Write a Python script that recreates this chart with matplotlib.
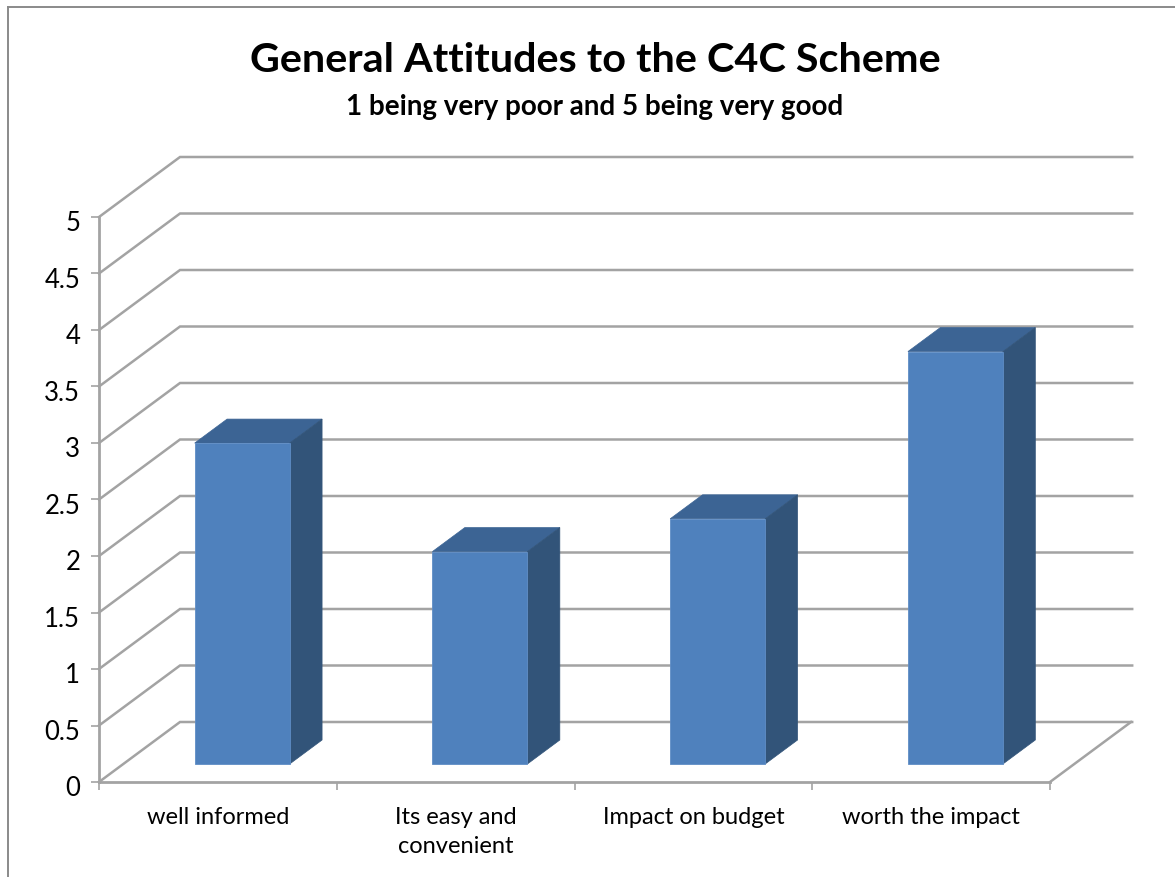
import matplotlib
matplotlib.use('Agg')
import matplotlib.pyplot as plt
from matplotlib.patches import Polygon
from matplotlib.transforms import ScaledTranslation

plt.rcParams['font.family'] = ['Lato', 'DejaVu Sans']

categories = ['well informed', 'Its easy and\nconvenient', 'Impact on budget', 'worth the impact']
scores = [2.84, 1.88, 2.17, 3.65]
y_ticks = [0, 0.5, 1, 1.5, 2, 2.5, 3, 3.5, 4, 4.5, 5]
y_labels = ['0', '0.5', '1', '1.5', '2', '2.5', '3', '3.5', '4', '4.5', '5']

W, H = 1175, 877
X0, SLOT = 99, 237.75     # pixel x of the axis, pixels per category
Y0, UNIT = 782, 113       # pixel y of zero, pixels per score unit

# fake 3d: how far the back wall is shifted from the front plane, in data units
DEPTH_X = 81 / SLOT
DEPTH_Y = 60 / UNIT
BAR_W = 95 / SLOT
GRID = '#a3a3a3'


def skew(x, y, d):
    """shift a point d of the way towards the back wall"""
    return (x + d * DEPTH_X, y + d * DEPTH_Y)


fig = plt.figure(figsize=(W / 100, H / 100), dpi=100, facecolor='white')
ax = fig.add_axes([0, 0, 1, 1])
ax.set_xlim(-X0 / SLOT, (W - X0) / SLOT)
ax.set_ylim(-(H - Y0) / UNIT, Y0 / UNIT)
ax.patch.set_visible(False)

# outer chart frame, only the top and left show
fig.add_artist(plt.Line2D([8 / W, 8 / W], [0, 1 - 7 / H], color='#8a8a8a', lw=1.4))
fig.add_artist(plt.Line2D([8 / W, 1], [1 - 7 / H, 1 - 7 / H], color='#8a8a8a', lw=1.4))

# walls and floor
right = len(categories)
for v in y_ticks:
    bx, by = skew(0, v, 1)
    ax.plot([0, bx, right + DEPTH_X + 0.005], [v, by, by], color=GRID, lw=1.8, zorder=1,
            solid_joinstyle='miter')
ax.plot([right, right + DEPTH_X], [0, DEPTH_Y], color=GRID, lw=1.8, zorder=1)

# bars: top, side, front
for i, val in enumerate(scores):
    left = i + 0.5 - BAR_W / 2
    d1, d2 = 0.3, 0.7
    x1, x2 = left, left + BAR_W
    top_face = [skew(x1, val, d1), skew(x2, val, d1), skew(x2, val, d2), skew(x1, val, d2)]
    side_face = [skew(x2, 0, d1), skew(x2, 0, d2), skew(x2, val, d2), skew(x2, val, d1)]
    front_face = [skew(x1, 0, d1), skew(x2, 0, d1), skew(x2, val, d1), skew(x1, val, d1)]
    ax.add_patch(Polygon(top_face, closed=True, fc='#3c6494', ec='#3c6494', lw=0.5, zorder=3))
    ax.add_patch(Polygon(side_face, closed=True, fc='#325479', ec='#325479', lw=0.5, zorder=3))
    ax.add_patch(Polygon(front_face, closed=True, fc='#4f81bd', ec='#5f8dc6', lw=0.6, zorder=4))

# real axes for ticks and labels
for s in ['top', 'right']:
    ax.spines[s].set_visible(False)
ax.spines['left'].set_position(('data', 0))
ax.spines['bottom'].set_position(('data', 0))
ax.spines['left'].set_bounds(0, 5)
ax.spines['bottom'].set_bounds(0, right)
ax.spines['left'].set_color(GRID)
ax.spines['bottom'].set_color(GRID)
ax.spines['left'].set_linewidth(2.0)
ax.spines['bottom'].set_linewidth(2.0)

ax.set_yticks(y_ticks)
ax.set_yticklabels(y_labels, fontsize=18.5, color='black')
ax.tick_params(axis='y', length=6, width=1.2, color=GRID, pad=7.5)
ax.set_xticks(range(right + 1))
ax.set_xticklabels([''] * (right + 1))
ax.tick_params(axis='x', which='major', length=6, width=1.2, color=GRID)
ax.set_xticks([i + 0.5 for i in range(right)], minor=True)
ax.set_xticklabels(categories, minor=True, fontsize=17, color='black', linespacing=1.45)
ax.tick_params(axis='x', which='minor', length=0, pad=18)

# the value labels sit a little below their ticks
nudge = ScaledTranslation(0, -3 / 72, fig.dpi_scale_trans)
for lab in ax.get_yticklabels():
    lab.set_transform(lab.get_transform() + nudge)

fig.text(595 / W, 1 - 60 / H, 'General Attitudes to the C4C Scheme', ha='center', va='center',
         fontsize=29.8, fontweight='bold', color='black')
fig.text(595 / W, 1 - 107 / H, '1 being very poor and 5 being very good', ha='center', va='center',
         fontsize=20, fontweight='bold', color='black')

fig.savefig('out.png', dpi=100)
plt.close(fig)
